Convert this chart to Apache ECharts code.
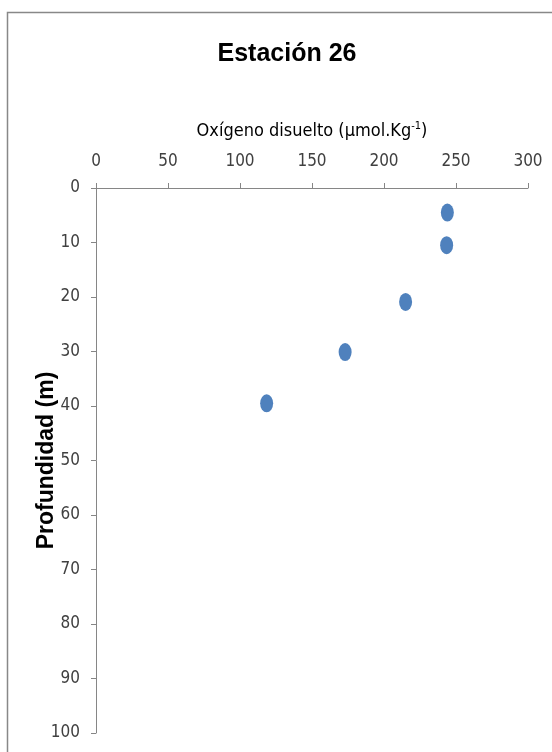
<!DOCTYPE html>
<html>
<head>
<meta charset="utf-8">
<script src="https://cdn.jsdelivr.net/npm/echarts@6/dist/echarts.min.js"></script>
<style>
html,body{margin:0;padding:0;background:#fff;}
#c{width:552px;height:752px;}
</style>
</head>
<body>
<div id="c"></div>
<script>
const titleText = 'Estación 26';
const xName = 'Oxígeno disuelto (µmol.Kg';
const yName = 'Profundidad (m)';
const oxygen = [244, 243.5, 215, 173, 118.5];
const depth = [4.5, 10.5, 20.9, 30.1, 39.5];
const xMin = 0, xMax = 300, xStep = 50;
const yMin = 0, yMax = 100, yStep = 10;

const narrow = "'DejaVu Sans Condensed', sans-serif";
const chart = echarts.init(document.getElementById('c'), null, {renderer: 'canvas'});
const points = oxygen.map((v, i) => [v, depth[i]]);
chart.setOption({
  animation: false,
  backgroundColor: '#fff',
  graphic: [{
    type: 'rect', shape: {x: 7.5, y: 12.5, width: 600, height: 800},
    style: {fill: 'none', stroke: '#888', lineWidth: 1.5}, silent: true, z: -1
  }],
  title: {
    text: titleText, left: 282, top: 37, textAlign: 'center',
    textStyle: {fontFamily: "'Liberation Sans', sans-serif", fontWeight: 'bold', fontSize: 25, color: '#000'}
  },
  grid: {left: 96, right: 24, top: 188, bottom: 19, containLabel: false},
  xAxis: {
    type: 'value', position: 'top', min: xMin, max: xMax, interval: xStep,
    name: '{a|' + xName + '}{s|-1}{a|)}', nameLocation: 'middle', nameGap: 47,
    nameMoveOverlap: false,
    nameTextStyle: {
      rich: {
        a: {fontFamily: narrow, fontSize: 18, color: '#000'},
        s: {fontFamily: narrow, fontSize: 11, color: '#000', verticalAlign: 'top', padding: [0, 0, 9, 0]}
      }
    },
    axisLine: {show: true, lineStyle: {color: '#868686', width: 1}},
    axisTick: {show: true, inside: false, length: 5, lineStyle: {color: '#868686'}},
    axisLabel: {fontFamily: narrow, fontSize: 17, color: '#404040', margin: 18},
    splitLine: {show: false}
  },
  yAxis: {
    type: 'value', inverse: true, min: yMin, max: yMax, interval: yStep,
    name: yName, nameLocation: 'middle', nameRotate: 90, nameGap: 38,
    nameMoveOverlap: false,
    nameTextStyle: {fontFamily: "'Liberation Sans', sans-serif", fontWeight: 'bold', fontSize: 23, color: '#000'},
    axisLine: {show: true, lineStyle: {color: '#868686', width: 1}},
    axisTick: {show: true, inside: false, length: 5, lineStyle: {color: '#868686'}},
    axisLabel: {fontFamily: narrow, fontSize: 17, color: '#404040', margin: 16},
    splitLine: {show: false}
  },
  series: [{
    type: 'scatter', data: points, symbol: 'circle', symbolSize: [13, 18],
    itemStyle: {color: '#4F81BD', opacity: 1}
  }]
});
</script>
</body>
</html>
